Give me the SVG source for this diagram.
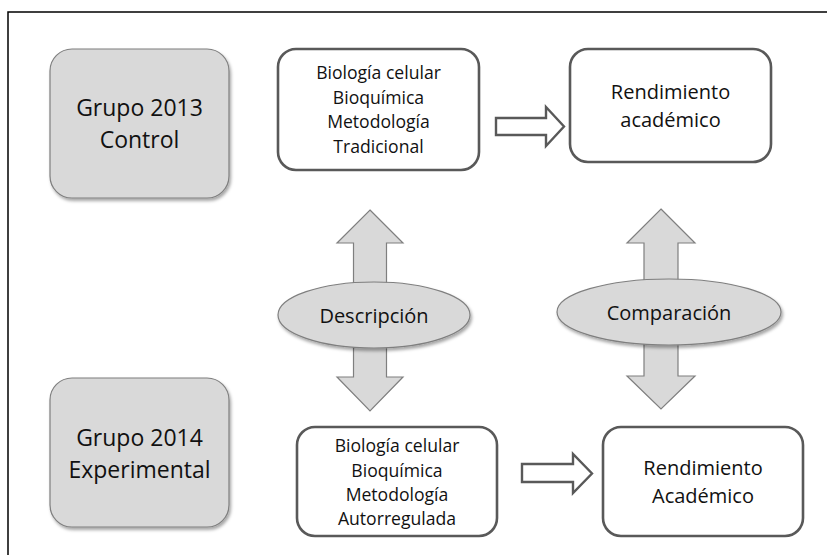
<svg xmlns="http://www.w3.org/2000/svg" width="827" height="555" viewBox="0 0 827 555">
<defs>
<filter id="sh" x="-10%" y="-10%" width="125%" height="130%">
<feDropShadow dx="1.5" dy="2.5" stdDeviation="1.8" flood-color="#000" flood-opacity="0.35"/>
</filter>
</defs>
<style>
text{font-family:"Open Sans","Liberation Sans",sans-serif;fill:#111;text-anchor:middle}
.big{font-size:23px}
.mid{font-size:20px}
.sm{font-size:17.6px}
.gray{fill:#d9d9d9;stroke:#7f7f7f;stroke-width:1.2}
.white{fill:#fff;stroke:#595959;stroke-width:2.6}
.arr{fill:#d9d9d9;stroke:#7f7f7f;stroke-width:1.2}
.oarr{fill:#fff;stroke:#595959;stroke-width:2.4}
</style>
<rect x="0" y="0" width="827" height="555" fill="#fff"/>
<rect x="8" y="12" width="830" height="560" fill="none" stroke="#000" stroke-width="1.5"/>

<g id="connectors">
<path class="arr" d="M370,210 L403,243 L386.5,243 L386.5,377 L403,377 L370,411 L337,377 L353.5,377 L353.5,243 L337,243 Z"/>
<path class="arr" d="M661,209 L695,243 L678,243 L678,376 L695,376 L661,409 L627,376 L644,376 L644,243 L627,243 Z"/>
<path class="oarr" d="M496,118 L546,118 L546,107 L564,126.5 L546,146 L546,135 L496,135 Z"/>
<path class="oarr" d="M522,464 L573,464 L573,454 L592,473.5 L573,493 L573,482 L522,482 Z"/>
</g>

<g id="grupo2013">
<rect class="gray" x="50" y="49" width="179" height="149" rx="22" filter="url(#sh)"/>
<text class="big" x="139.5" y="116">Grupo 2013</text>
<text class="big" x="139.5" y="148">Control</text>
</g>

<g id="grupo2014">
<rect class="gray" x="50" y="378" width="179" height="149" rx="22" filter="url(#sh)"/>
<text class="big" x="139.5" y="446">Grupo 2014</text>
<text class="big" x="139.5" y="478">Experimental</text>
</g>

<g id="metodo2013">
<rect class="white" x="278" y="49" width="201" height="121" rx="18"/>
<text class="sm" x="378.5" y="79">Biología celular</text>
<text class="sm" x="378.5" y="104">Bioquímica</text>
<text class="sm" x="378.5" y="128">Metodología</text>
<text class="sm" x="378.5" y="153">Tradicional</text>
</g>

<g id="rend2013">
<rect class="white" x="570" y="49" width="201" height="113" rx="18"/>
<text class="mid" x="670.5" y="99">Rendimiento</text>
<text class="mid" x="670.5" y="127">académico</text>
</g>

<g id="metodo2014">
<rect class="white" x="297" y="427" width="200" height="109" rx="18"/>
<text class="sm" x="397" y="452">Biología celular</text>
<text class="sm" x="397" y="477">Bioquímica</text>
<text class="sm" x="397" y="501">Metodología</text>
<text class="sm" x="397" y="525">Autorregulada</text>
</g>

<g id="rend2014">
<rect class="white" x="603" y="427" width="200" height="109" rx="18"/>
<text class="mid" x="703" y="475">Rendimiento</text>
<text class="mid" x="703" y="503">Académico</text>
</g>

<g id="descripcion">
<ellipse class="gray" cx="374" cy="315" rx="96" ry="33" filter="url(#sh)"/>
<text class="mid" x="374" y="323">Descripción</text>
</g>

<g id="comparacion">
<ellipse class="gray" cx="669" cy="312" rx="112" ry="33" filter="url(#sh)"/>
<text class="mid" x="669" y="320">Comparación</text>
</g>
</svg>
